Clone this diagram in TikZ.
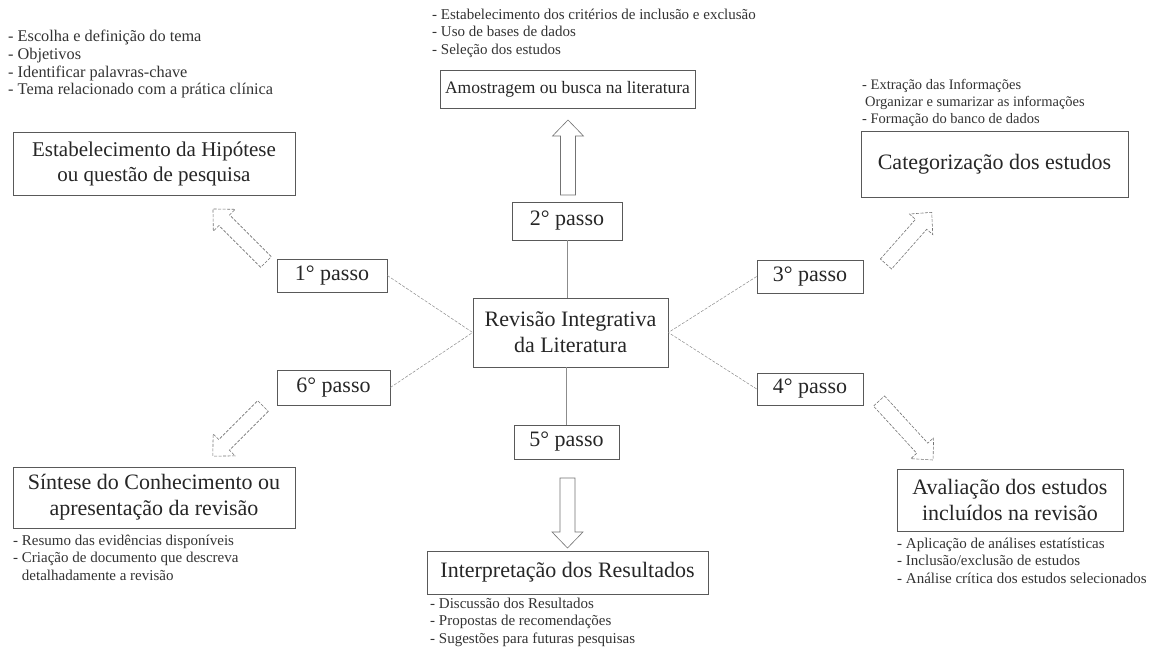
\documentclass[tikz,border=0pt]{standalone}
\usepackage{fontspec}
\setmainfont{Liberation Serif}
\newcommand\blockarr[4][]{%
  \draw[barrow,#1,shift={#2},rotate=#3] (0,-7.5) -- (#4-16,-7.5) -- (#4-16,-15.5) -- (#4,0) -- (#4-16,15.5) -- (#4-16,7.5) -- (0,7.5) -- cycle;}
\begin{document}
\begin{tikzpicture}[x=1pt,y=-1pt,
 box/.style={draw=black!65, line width=0.7pt, inner sep=0pt, align=center, font=\fontsize{22}{26}\selectfont, text=black!85},
 stepbox/.style={draw=black!65, line width=0.7pt, inner sep=0pt, font=\fontsize{22}{26}\selectfont, text=black!85},
 notes/.style={anchor=north west, inner sep=0pt, align=left, font=\fontsize{15}{17.6}\selectfont, text=black!80},
 link/.style={draw=black!45, line width=0.5pt},
 dlink/.style={link, dash pattern=on 3pt off 1.5pt},
 barrow/.style={draw=black!55, line width=0.6pt, line join=miter},
 dbarrow/.style={dash pattern=on 3pt off 1.5pt}
]
\useasboundingbox[fill=white] (0,0) rectangle (1151,650);

% main boxes
\node[box, minimum width=282, minimum height=63, font=\fontsize{21}{25}\selectfont] (hyp) at (154,163.5) {Estabelecimento da Hipótese\\ou questão de pesquisa};
\node[box, minimum width=255, minimum height=38, font=\fontsize{17.5}{22}\selectfont] (amo) at (567.5,89) {Amostragem ou busca na literatura};
\node[box, minimum width=267, minimum height=66] (cat) at (994.5,164) {Categorização dos estudos};
\node[box, minimum width=195, minimum height=69] (rev) at (570.5,332.5) {Revisão Integrativa\\da Literatura};
\node[box, minimum width=281, minimum height=43] (int) at (567.5,572.5) {Interpretação dos Resultados};
\node[box, minimum width=226, minimum height=62] (ava) at (1010,500) {Avaliação dos estudos\\incluídos na revisão};
\node[box, minimum width=282, minimum height=61] (sin) at (154,497.5) {Síntese do Conhecimento ou\\apresentação da revisão};

% step boxes
\node[stepbox, minimum width=110, minimum height=33] (p1) at (332,275.5) {1° passo};
\node[stepbox, minimum width=110, minimum height=38] (p2) at (567,221) {2° passo};
\node[stepbox, minimum width=106, minimum height=33] (p3) at (810,276.5) {3° passo};
\node[stepbox, minimum width=106, minimum height=32] (p4) at (810,389) {4° passo};
\node[stepbox, minimum width=105, minimum height=34] (p5) at (566.5,442) {5° passo};
\node[stepbox, minimum width=113, minimum height=35] (p6) at (333.5,387.5) {6° passo};

% connectors
\draw[link] (p2.south) -- (p2.south |- rev.north);
\draw[link] (p5.north |- rev.south) -- (p5.north);
\draw[dlink] (p1.east) -- (rev.west);
\draw[dlink] (p6.east) -- (rev.west);
\draw[dlink] (p3.west) -- (rev.east);
\draw[dlink] (p4.west) -- (rev.east);

% block arrows
\blockarr{(568,195)}{90}{75}
\blockarr{(567.5,478)}{-90}{70}
\blockarr[dbarrow]{(266,262)}{135}{75}
\blockarr[dbarrow]{(886,264)}{48.5}{69}
\blockarr[dbarrow]{(879,401)}{-47.5}{80}
\blockarr[dbarrow]{(263,406)}{-135}{71}

% notes
\node[notes, font=\fontsize{16.3}{17.7}\selectfont] (n1) at (8,30) {- Escolha e definição do tema\\- Objetivos\\- Identificar palavras-chave\\- Tema relacionado com a prática clínica};
\node[notes] (n2) at (432,8.5) {- Estabelecimento dos critérios de inclusão e exclusão\\- Uso de bases de dados\\- Seleção dos estudos};
\node[notes, font=\fontsize{14.5}{17}\selectfont] (n3) at (862,79) {- Extração das Informações\\\hspace*{3pt}Organizar e sumarizar as informações\\- Formação do banco de dados};
\node[notes] (n4) at (897,537.5) {- Aplicação de análises estatísticas\\- Inclusão/exclusão de estudos\\- Análise crítica dos estudos selecionados};
\node[notes] (n5) at (430,597.5) {- Discussão dos Resultados\\- Propostas de recomendações\\- Sugestões para futuras pesquisas};
\node[notes] (n6) at (13,534.5) {- Resumo das evidências disponíveis\\- Criação de documento que descreva\\\phantom{- }detalhadamente a revisão};
\end{tikzpicture}
\end{document}
